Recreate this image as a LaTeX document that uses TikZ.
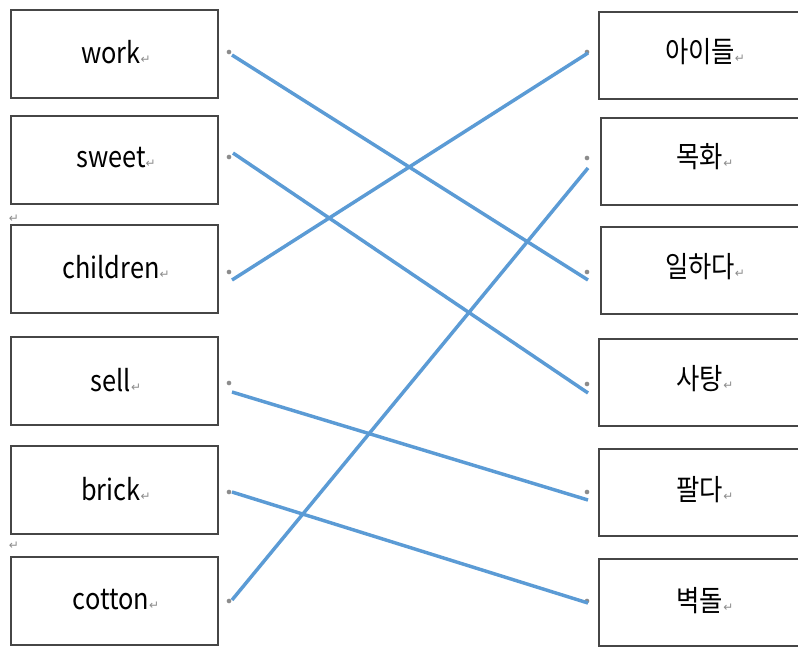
\documentclass[tikz,border=0pt]{standalone}
\usepackage{fontspec}
\setmainfont{Noto Sans CJK KR}
\newfontfamily\symfont{DejaVu Sans}
\definecolor{lineblue}{RGB}{91,155,213}
\definecolor{boxgray}{RGB}{70,70,70}
\definecolor{markgray}{RGB}{140,140,140}
\newcommand{\ret}{{\symfont\fontsize{9pt}{10pt}\selectfont\color{markgray}↵}}
\newcommand{\wordtxt}[1]{\scalebox{1}[1.15]{\fontsize{19pt}{22pt}\selectfont #1}\ret}
\tikzset{
  leftbox/.style={draw=boxgray, line width=1.4pt, minimum width=207*0.75pt, minimum height=88*0.75pt, inner sep=0pt, anchor=north west},
  rightbox/.style={draw=boxgray, line width=1.4pt, minimum width=212*0.75pt, minimum height=87*0.75pt, inner sep=0pt, anchor=north west},
  link/.style={draw=lineblue, line width=2.6pt},
  pdot/.style={circle, fill=markgray, inner sep=0pt, minimum size=3.5pt},
}
\begin{document}
\begin{tikzpicture}[x=0.75pt,y=-0.75pt]
\useasboundingbox (0,0) rectangle (798,647);
\begin{scope}
\clip (0,0) rectangle (798,647);
% left boxes
\node[leftbox] (L1) at (10,9) {};
\node[leftbox] (L2) at (10,115) {};
\node[leftbox] (L3) at (10,224) {};
\node[leftbox] (L4) at (10,336) {};
\node[leftbox] (L5) at (10,445) {};
\node[leftbox] (L6) at (10,556) {};
% right boxes
\node[rightbox] (R1) at (598,11) {};
\node[rightbox] (R2) at (600,117) {};
\node[rightbox] (R3) at (600,226) {};
\node[rightbox] (R4) at (598,338) {};
\node[rightbox] (R5) at (598,448) {};
\node[rightbox] (R6) at (598,558) {};
\end{scope}
% left texts
\node (t1) at (116,52) {\wordtxt{work}};
\node (t2) at (116,158) {\wordtxt{sweet}};
\node (t3) at (116,267) {\wordtxt{children}};
\node (t4) at (116,380) {\wordtxt{sell}};
\node (t5) at (116,489) {\wordtxt{brick}};
\node (t6) at (116,600) {\wordtxt{cotton}};
% right texts
\node (u1) at (705,52) {\wordtxt{아이들}};
\node (u2) at (705,157) {\wordtxt{목화}};
\node (u3) at (705,267) {\wordtxt{일하다}};
\node (u4) at (705,379) {\wordtxt{사탕}};
\node (u5) at (705,490) {\wordtxt{팔다}};
\node (u6) at (705,601) {\wordtxt{벽돌}};
% stray paragraph marks
\node (m1) at (14,219) {\ret};
\node (m2) at (14,546) {\ret};
% dots
\node[pdot] (d1) at (229,52) {};
\node[pdot] (d2) at (229,157) {};
\node[pdot] (d3) at (229,272) {};
\node[pdot] (d4) at (229,383) {};
\node[pdot] (d5) at (229,492) {};
\node[pdot] (d6) at (229,601) {};
\node[pdot] (e1) at (587,52) {};
\node[pdot] (e2) at (587,158) {};
\node[pdot] (e3) at (587,272) {};
\node[pdot] (e4) at (587,384) {};
\node[pdot] (e5) at (587,492) {};
\node[pdot] (e6) at (587,601) {};
% link end points
\coordinate (a1) at (232,55);
\coordinate (a2) at (233,153);
\coordinate (a3) at (232,280);
\coordinate (a4) at (232,392);
\coordinate (a5) at (232,492);
\coordinate (a6) at (232,600);
\coordinate (b1) at (588,53);
\coordinate (b2) at (588,168);
\coordinate (b3) at (588,280);
\coordinate (b4) at (588,393);
\coordinate (b5) at (588,500);
\coordinate (b6) at (588,603);
% links
\draw[link] (a1) -- (b3);
\draw[link] (a2) -- (b4);
\draw[link] (a3) -- (b1);
\draw[link] (a4) -- (b5);
\draw[link] (a5) -- (b6);
\draw[link] (a6) -- (b2);
\end{tikzpicture}
\end{document}
